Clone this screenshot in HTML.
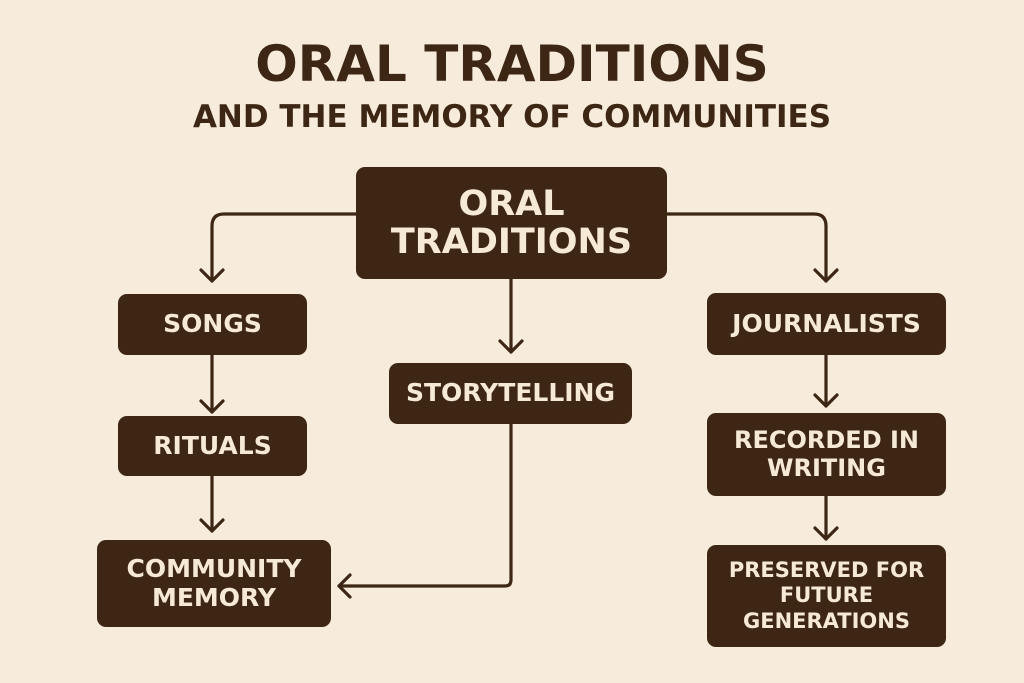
<!DOCTYPE html>
<html><head><style>
body{margin:0;width:1024px;height:683px;background:#f7ecdc;position:relative;overflow:hidden;font-family:"DejaVu Sans","Liberation Sans",sans-serif;}
.t{position:absolute;left:0;width:1024px;text-align:center;color:#3d2614;font-weight:bold;}
.b{position:absolute;background:#3e2614;border-radius:9px;color:#f6ead6;font-weight:bold;display:flex;align-items:center;justify-content:center;text-align:center;line-height:1.15;}
svg{position:absolute;left:0;top:0;}
</style></head><body>
<div class="t" style="top:35px;font-size:50px;">ORAL TRADITIONS</div>
<div class="t" style="top:99px;font-size:31px;">AND THE MEMORY OF COMMUNITIES</div>
<svg width="1024" height="683" fill="none" stroke="#3d2614" stroke-width="3.2" stroke-linecap="round" stroke-linejoin="round">
<path d="M358 214 H224 Q212 214 212 226 V281"/><path d="M201 270 L212 281 L223 270"/>
<path d="M666 214 H814 Q826 214 826 226 V281"/><path d="M815 270 L826 281 L837 270"/>
<path d="M511 279 V352"/><path d="M500 341 L511 352 L522 341"/>
<path d="M212 355 V412"/><path d="M201 401 L212 412 L223 401"/>
<path d="M212 476 V531"/><path d="M201 520 L212 531 L223 520"/>
<path d="M826 355 V406"/><path d="M815 395 L826 406 L837 395"/>
<path d="M826 496 V539"/><path d="M815 528 L826 539 L837 528"/>
<path d="M511 424 V580 Q511 586 505 586 H339"/><path d="M350 575 L339 586 L350 597"/>
</svg>
<div class="b" style="left:356px;top:167px;width:311px;height:112px;font-size:35px;line-height:1.1">ORAL<br>TRADITIONS</div>
<div class="b" style="left:118px;top:294px;width:189px;height:61px;font-size:25px">SONGS</div>
<div class="b" style="left:118px;top:416px;width:189px;height:60px;font-size:25px">RITUALS</div>
<div class="b" style="left:97px;top:540px;width:234px;height:87px;font-size:25px">COMMUNITY<br>MEMORY</div>
<div class="b" style="left:389px;top:363px;width:243px;height:61px;font-size:25px">STORYTELLING</div>
<div class="b" style="left:707px;top:293px;width:239px;height:62px;font-size:25px">JOURNALISTS</div>
<div class="b" style="left:707px;top:413px;width:239px;height:83px;font-size:24px">RECORDED IN<br>WRITING</div>
<div class="b" style="left:707px;top:545px;width:239px;height:102px;font-size:21px;line-height:1.2">PRESERVED FOR<br>FUTURE<br>GENERATIONS</div>
</body></html>
